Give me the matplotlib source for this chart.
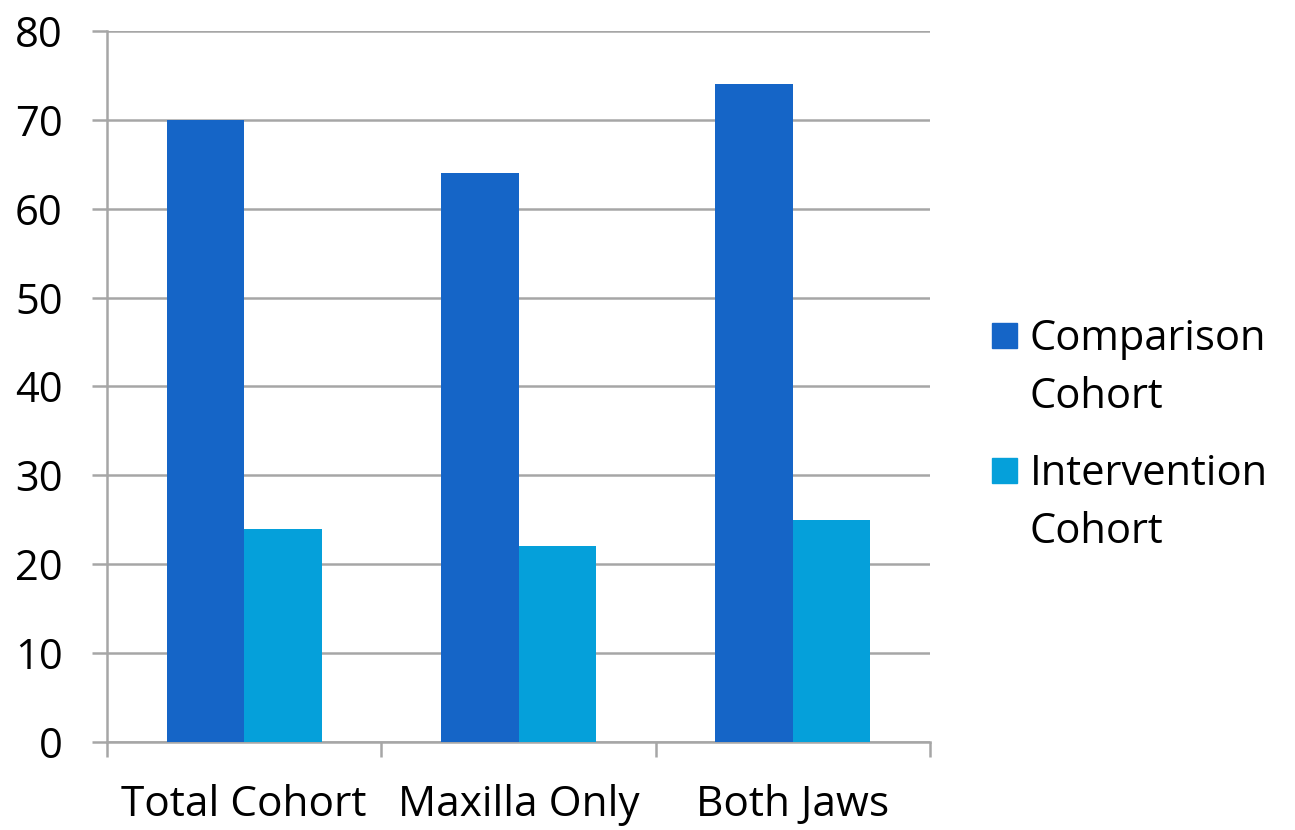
import numpy as np
import matplotlib.pyplot as plt
from matplotlib.patches import Rectangle

categories = ['Total Cohort', 'Maxilla Only', 'Both Jaws']
comparison = [70, 64, 74]
intervention = [24, 22, 25]
series_names = ['Comparison Cohort', 'Intervention Cohort']
y_ticks = [0, 10, 20, 30, 40, 50, 60, 70, 80]

colors = ['#1565C7', '#05A0DA']
grid_col = '#A6A6A6'

plt.rcParams['font.family'] = ['Open Sans', 'DejaVu Sans']

W, H = 1295, 830
fig = plt.figure(figsize=(W / 100, H / 100), dpi=100)
ax = fig.add_axes([107 / W, 1 - 742 / H, (930 - 107) / W, (742 - 31) / H])

x = np.arange(len(categories))
w = 0.283
ax.bar(x - w / 2, comparison, w, color=colors[0], zorder=3)
ax.bar(x + w / 2, intervention, w, color=colors[1], zorder=3)

ax.set_xlim(-0.5, len(categories) - 0.5)
ax.set_ylim(0, 80)
ax.set_yticks(y_ticks)
ax.yaxis.grid(True, color=grid_col, linewidth=1.8, zorder=0)

ax.set_xticks(x)
ax.set_xticklabels(categories)
ax.set_xticks(np.arange(len(categories) + 1) - 0.5, minor=True)
ax.tick_params(axis='x', which='major', length=0, pad=30, labelsize=30.5)
ax.tick_params(axis='x', which='minor', length=11, width=1.8, color=grid_col)
ax.tick_params(axis='y', length=11, width=1.8, color=grid_col, pad=21, labelsize=30)

for s in ['top', 'right']:
    ax.spines[s].set_visible(False)
for s in ['left', 'bottom']:
    ax.spines[s].set_color(grid_col)
    ax.spines[s].set_linewidth(1.8)

# legend drawn by hand: square next to the first line of each two-line label
entry_top = [350, 485]   # baseline of first line, in pixels from top
for i, name in enumerate(series_names):
    b = entry_top[i]
    fig.patches.append(Rectangle((992 / W, 1 - (b - 2) / H), 25 / W, 25 / H,
                                 transform=fig.transFigure, color=colors[i]))
    for j, word in enumerate(name.split(' ')):
        fig.text(1030 / W, 1 - (b + 58 * j) / H, word, fontsize=30, va='baseline')

fig.savefig('out.png', dpi=100)
